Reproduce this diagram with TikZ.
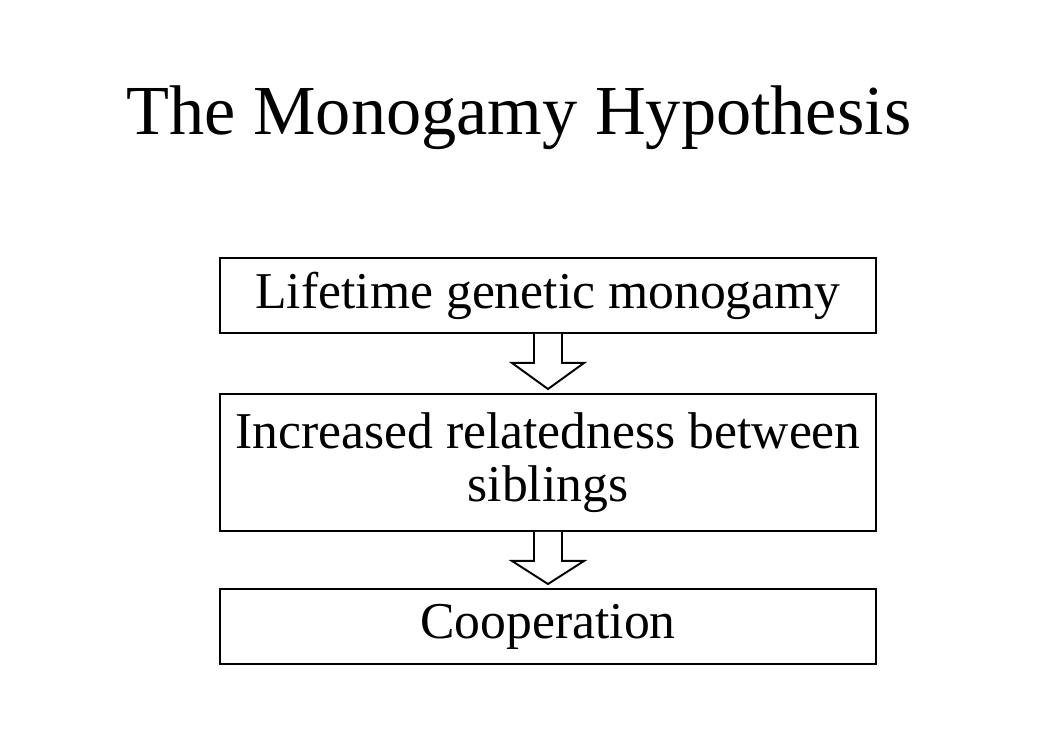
\documentclass[tikz,border=0pt]{standalone}
\usepackage{fontspec}
\setmainfont{Liberation Serif}
\usetikzlibrary{positioning,calc}
\newlength{\pxu}\setlength{\pxu}{0.02cm}
\tikzset{
  stepbox/.style={draw,line width=1.1pt,minimum width=656\pxu,align=center,
    font=\fontsize{29.4}{34}\selectfont,inner sep=0pt},
  hollow/.style={draw,line width=1.1pt,fill=white},
}
% block arrow between two stacked boxes
\newcommand{\blockarrow}[2]{%
  \draw[hollow] ($(#1.south)+(-14,0)$) -- ++(0,29) -- ++(-22,0)
    -- ($(#2.north)+(0,-4)$) -- ($(#1.south)+(36,29)$) -- ++(-22,0)
    -- ($(#1.south)+(14,0)$);}
\begin{document}
\begin{tikzpicture}[x=0.02cm,y=-0.02cm]
		\useasboundingbox (0,0) rectangle (1049,729);
		\node (title) at (519,118) {\fontsize{40}{46}\selectfont The Monogamy Hypothesis};
		\node[stepbox,minimum height=75\pxu] (life) at (548,295.5) {Lifetime genetic monogamy};
		\node[stepbox,minimum height=137\pxu] (rel) at (548,462.5) {Increased relatedness between\\[-4pt]siblings};
		\node[stepbox,minimum height=75\pxu] (coop) at (548,626.5) {Cooperation};
		%
		\blockarrow{life}{rel}
		\blockarrow{rel}{coop}
\end{tikzpicture}
\end{document}
